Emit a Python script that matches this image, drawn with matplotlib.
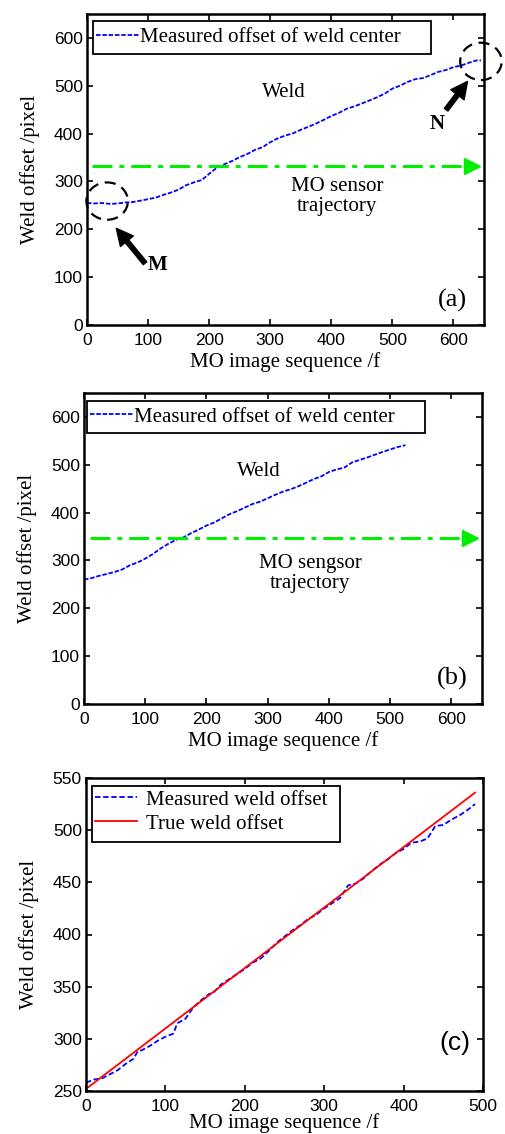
import matplotlib
matplotlib.use("Agg")
import matplotlib.pyplot as plt
from matplotlib.patches import Ellipse, Rectangle

SERIF = ["Liberation Serif", "DejaVu Serif"]
SANS = ["Liberation Sans", "DejaVu Sans"]
plt.rcParams["font.family"] = SANS

# (a) measured offset of weld center
a_x = [0, 12, 25, 38, 50, 62, 75, 88, 100, 112, 125, 138, 150, 162, 175, 188, 200, 212,
       225, 238, 250, 262, 275, 288, 300, 312, 325, 338, 350, 362, 375, 388, 400, 412, 425,
       438, 450, 462, 475, 488, 500, 512, 525, 538, 550, 562, 575, 588, 600, 612, 625, 638, 645]
a_y = [255, 254, 255, 253, 254, 256, 257, 260, 263, 266, 272, 277, 283, 292, 298, 303, 316, 328,
       336, 343, 351, 357, 366, 372, 382, 390, 396, 401, 408, 414, 421, 429, 437, 443, 452,
       457, 463, 469, 476, 484, 494, 500, 508, 514, 516, 522, 529, 533, 539, 542, 548, 553, 553]

# (b) measured offset of weld center
b_x = [0, 12, 25, 38, 50, 62, 75, 88, 100, 112, 125, 138, 150, 162, 175, 188, 200, 212, 225,
       238, 250, 262, 275, 288, 300, 312, 325, 338, 350, 362, 375, 388, 400, 412, 425, 438,
       450, 462, 475, 488, 500, 512, 525]
b_y = [260, 263, 268, 272, 276, 281, 290, 296, 304, 313, 325, 335, 343, 348, 357, 365, 373, 379, 388,
       397, 403, 410, 418, 423, 430, 437, 444, 449, 455, 462, 470, 476, 485, 490, 494, 505,
       510, 515, 521, 527, 532, 537, 541]

# (c) measured vs true weld offset
c_x = [0, 10, 20, 30, 40, 50, 60, 65, 70, 80, 90, 100, 110, 115, 125, 135, 145, 155, 160, 170,
       180, 190, 200, 210, 220, 230, 240, 250, 260, 270, 280, 290, 300, 310, 320, 330, 340, 350,
       360, 370, 380, 390, 400, 410, 420, 430, 440, 450, 460, 470, 480, 490]
c_y = [258, 261, 262, 266, 270, 276, 281, 288, 289, 293, 298, 302, 305, 315, 319, 330, 337, 343, 344, 352,
       357, 362, 367, 373, 377, 384, 392, 398, 404, 409, 415, 419, 425, 430, 435, 447, 449, 454,
       461, 467, 472, 478, 482, 488, 489, 492, 504, 505, 510, 514, 519, 525]
true_x = [0, 490]
true_y = [252, 536]

traj_y = {"a": 333, "b": 346}

W, H = 505, 1134
fig = plt.figure(figsize=(W / 100, H / 100), dpi=100)


def make_axes(l, t, r, b):
    return fig.add_axes([l / W, (H - b) / H, (r - l) / W, (b - t) / H])


def style(ax, xlim, ylim, xstep, ystep, xlabelpad=3):
    ax.set_xlim(*xlim)
    ax.set_ylim(*ylim)
    ax.set_xticks(range(xlim[0], xlim[1] + 1, xstep))
    ax.set_yticks(range(ylim[0], ylim[1] + 1, ystep))
    ax.tick_params(direction="in", top=True, right=True, length=4, width=1.2,
                   labelsize=12.5)
    ax.tick_params(axis="x", pad=6)
    ax.tick_params(axis="y", pad=3)
    for s in ax.spines.values():
        s.set_linewidth(1.8)
    ax.set_xlabel("MO image sequence /f", family=SERIF, fontsize=15, labelpad=xlabelpad)
    ax.set_ylabel("Weld offset /pixel", family=SERIF, fontsize=15, labelpad=10)


def trajectory(ax, y):
    ln, = ax.plot([9, 628], [y, y], color="#00ee00", lw=2.2)
    ln.set_dashes([6.5, 2.3, 1.6, 2.3])
    ax.plot([630], [y], marker=">", color="#00ee00", ms=11, clip_on=False)


def legend_box(ax, box, anchor, **kw):
    # box drawn by hand: MATLAB leaves extra room right of the text
    x0, y0, x1, y1 = box
    ax.add_patch(Rectangle((x0, y0), x1 - x0, y1 - y0, transform=ax.transAxes,
                           fc="white", ec="black", lw=1.3, zorder=4))
    leg = ax.legend(loc="upper left", bbox_to_anchor=anchor, prop={"family": SERIF, "size": 15},
                    frameon=False, borderaxespad=0, **kw)
    leg.set_zorder(5)
    return leg


def arrow(ax, head, tail):
    ax.annotate("", xy=head, xytext=tail,
                arrowprops=dict(facecolor="black", edgecolor="black", width=3.2, headwidth=12,
                                headlength=12, shrink=0))


# ---- panel (a)
ax = make_axes(87, 14, 484, 325)
ln, = ax.plot(a_x, a_y, color="#0000ff", lw=1.3, label="Measured offset of weld center")
ln.set_dashes([2.5, 1])
trajectory(ax, traj_y["a"])
style(ax, (0, 650), (0, 650), 100, 100)
legend_box(ax, (0.015, 0.871, 0.866, 0.977), (0.012, 0.97),
           handlelength=2.1, handletextpad=0.0, borderpad=0.2)
ax.text(323, 485, "Weld", family=SERIF, fontsize=15, ha="center", va="center")
ax.text(410, 268, "MO sensor\ntrajectory", family=SERIF, fontsize=15, ha="center",
        va="center", linespacing=1.1)
ax.text(598, 52, "(a)", family=SERIF, fontsize=19, ha="center", va="center")
for cx, cy in [(33, 259), (645, 551)]:
    e = Ellipse((cx, cy), 68, 78, fill=False, ec="black", lw=1.6, ls=(0, (5, 3)), clip_on=False)
    ax.add_patch(e)
arrow(ax, (48, 202), (95, 129))
ax.text(116, 125, "M", family=SERIF, fontsize=15, weight="bold", ha="center", va="center")
arrow(ax, (623, 509), (588, 450))
ax.text(574, 420, "N", family=SERIF, fontsize=15, weight="bold", ha="center", va="center")

# ---- panel (b)
ax = make_axes(84, 393, 482, 704)
ln, = ax.plot(b_x, b_y, color="#0000ff", lw=1.3, label="Measured offset of weld center")
ln.set_dashes([2.5, 1])
trajectory(ax, traj_y["b"])
style(ax, (0, 650), (0, 650), 100, 100)
legend_box(ax, (0.008, 0.87, 0.858, 0.975), (0.005, 0.968),
           handlelength=2.1, handletextpad=0.0, borderpad=0.2)
ax.text(285, 485, "Weld", family=SERIF, fontsize=15, ha="center", va="center")
ax.text(369, 273, "MO sengsor\ntrajectory", family=SERIF, fontsize=15, ha="center",
        va="center", linespacing=1.1)
ax.text(601, 54, "(b)", family=SERIF, fontsize=19, ha="center", va="center")

# ---- panel (c)
ax = make_axes(86, 778, 483, 1091)
ln, = ax.plot(c_x, c_y, color="#0000ff", lw=1.3, label="Measured weld offset")
ln.set_dashes([3, 1.5])
ax.plot(true_x, true_y, color="#ff0000", lw=1.3, label="True weld offset")
style(ax, (0, 500), (250, 550), 100, 50, xlabelpad=-1)
legend_box(ax, (0.016, 0.796, 0.64, 0.974), (0.012, 0.975),
           handlelength=2.0, handletextpad=0.45, borderpad=0.2, labelspacing=0.22)
ax.text(464, 296, "(c)", fontsize=19, ha="center", va="center")

fig.savefig("out.png", dpi=100)
